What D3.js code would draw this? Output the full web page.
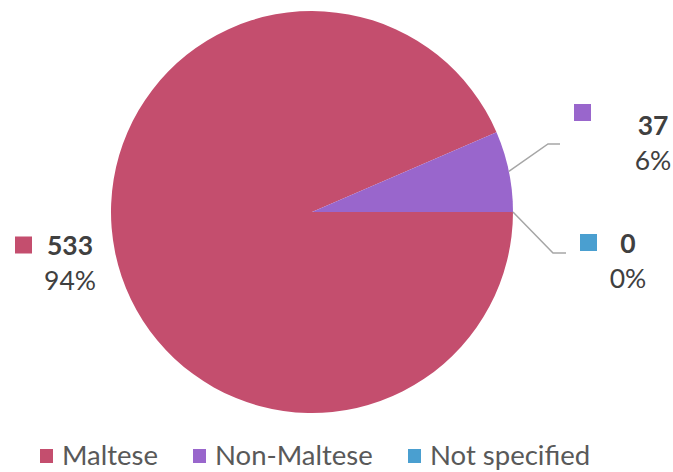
<!DOCTYPE html>
<html><head><meta charset="utf-8">
<script src="https://cdn.jsdelivr.net/npm/d3@7"></script>
<style>body{margin:0;background:#fff}svg{display:block}</style>
</head><body>
<svg id="c" width="673" height="472"></svg>
<script>
const categories = ["Maltese", "Non-Maltese", "Not specified"];
const values = [533, 37, 0];
const percentLabels = ["94%", "6%", "0%"];
const colors = ["#C44E6E", "#9966CC", "#4A9FD0"];

const svg = d3.select("#c");
const cx = 312, cy = 212, r = 201;
const g = svg.append("g").attr("transform", `translate(${cx},${cy})`);

const pie = d3.pie().sort(null).value(d => d)
  .startAngle(Math.PI / 2).endAngle(Math.PI / 2 + 2 * Math.PI);
const arcs = pie(values);
const arc = d3.arc().innerRadius(0).outerRadius(r);

g.selectAll("path.slice").data(arcs).enter().append("path")
  .attr("class", "slice")
  .attr("d", arc)
  .attr("fill", (d, i) => colors[i]);

// label layout (offsets relative to pie centre)
const labelPos = [
  { sq: [-297, 33], tx: [-242, 43], leader: null },
  { sq: [262, -99.5], tx: [341, -77], leader: [[236, -68], [248, -68]] },
  { sq: [268, 30.5], tx: [316, 41], leader: [[241, 41], [254, 41]] }
];

const fontFam = "Lato, 'Open Sans', sans-serif";
arcs.forEach((a, i) => {
  const L = labelPos[i];
  if (L.leader) {
    const mid = (a.startAngle + a.endAngle) / 2;
    const p0 = [Math.sin(mid) * r, -Math.cos(mid) * r];
    g.append("polyline")
      .attr("points", [p0, ...L.leader].map(p => p.join(",")).join(" "))
      .attr("fill", "none").attr("stroke", "#A6A6A6").attr("stroke-width", 1.5);
  }
  g.append("rect").attr("x", L.sq[0]).attr("y", L.sq[1] - 8.5).attr("width", 17).attr("height", 17)
    .attr("fill", colors[i]);
  g.append("text").attr("x", L.tx[0]).attr("y", L.tx[1])
    .attr("text-anchor", "middle").attr("font-family", fontFam)
    .attr("font-size", 26.5).attr("font-weight", "bold").attr("fill", "#404040")
    .text(values[i]);
  g.append("text").attr("x", L.tx[0]).attr("y", L.tx[1] + 35)
    .attr("text-anchor", "middle").attr("font-family", fontFam)
    .attr("font-size", 26.5).attr("fill", "#404040")
    .text(percentLabels[i]);
});

// legend
const legendX = [40, 193, 408];
const lg = svg.append("g");
categories.forEach((c, i) => {
  lg.append("rect").attr("x", legendX[i]).attr("y", 449).attr("width", 13).attr("height", 14).attr("fill", colors[i]);
  lg.append("text").attr("x", legendX[i] + 22).attr("y", 465)
    .attr("font-family", fontFam).attr("font-size", 27.5).attr("fill", "#595959").text(c);
});
</script>
</body></html>
